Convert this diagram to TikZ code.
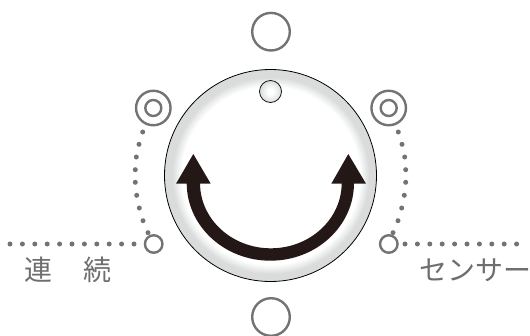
\documentclass[tikz,border=0pt]{standalone}
\usepackage{fontspec}
\newfontfamily\cjk{Noto Sans CJK JP}
\definecolor{dialgrey}{RGB}{218,220,220}
\definecolor{marksgrey}{RGB}{115,115,115}
\definecolor{txtgrey}{RGB}{110,110,110}
\definecolor{arrowblack}{RGB}{35,24,21}
\pgfdeclareradialshading{dialshade}{\pgfpoint{0bp}{0bp}}{
  color(0bp)=(white); color(21bp)=(white); color(23.2bp)=(dialgrey); color(25bp)=(dialgrey); color(50bp)=(dialgrey)}
\pgfdeclareradialshading{knobshade}{\pgfpoint{0bp}{0bp}}{
  color(0bp)=(white); color(6bp)=(white); color(25bp)=(dialgrey); color(50bp)=(dialgrey)}
\tikzset{
  ringmark/.style={circle,draw=marksgrey,line width=#1,inner sep=0pt,outer sep=0pt},
  dotmark/.style={circle,fill=marksgrey,inner sep=0pt,minimum size=5pt},
  labeltext/.style={text=txtgrey,font=\cjk\fontsize{28}{28}\selectfont,inner sep=0pt,anchor=mid},
  arrowpart/.style={fill=arrowblack,draw=none}
}
\begin{document}
\begin{tikzpicture}[x=1pt,y=-1pt]
\useasboundingbox (0,0) rectangle (530,335);
% outer marks
\node[ringmark=2.4pt,minimum size=37.6pt] (top) at (271,31.7) {};
\node[ringmark=2.4pt,minimum size=37.6pt] (bottom) at (271,317) {};
\node[ringmark=2.4pt,minimum size=34.5pt] (lo) at (153.3,108) {};
\node[ringmark=2.4pt,minimum size=16pt] (li) at (153.3,108) {};
\node[ringmark=2.4pt,minimum size=34.5pt] (ro) at (388.7,108) {};
\node[ringmark=2.4pt,minimum size=16pt] (ri) at (388.7,108) {};
\node[ringmark=2.4pt,minimum size=17.5pt] (ls) at (153.7,244) {};
\node[ringmark=2.4pt,minimum size=17.5pt] (rs) at (388.8,244) {};
% dial
\node[circle,draw=black,line width=0.8pt,minimum size=212pt,inner sep=0pt,shade,shading=dialshade] (dial) at (270.5,175.5) {};
\node[circle,draw=black,line width=0.7pt,minimum size=22pt,inner sep=0pt,shade,shading=knobshade] (knob) at (270.5,91.5) {};
% dots
\foreach \x/\y in {142.7/132,139/144.3,136.3/157,135.3/169.7,135.3/182.3,136.7/195.3,139.3/208,143/220.7,148/232.7}{
  \node[dotmark] at (\x,\y) {};
}
\foreach \x/\y in {398.3/132,402/144.3,404.7/157,405.7/169.7,405.7/182.3,404.3/195.3,401.7/208,398/220.7,393/232.7}{
  \node[dotmark] at (\x,\y) {};
}
\foreach \i in {0,...,10}{
  \node[dotmark] at ({10+12.4*\i},244) {};
}
\foreach \i in {0,...,9}{
  \node[dotmark] at ({405+12.4*\i},244) {};
}
% arrow
\fill[arrowpart] (186.7,183) arc[start angle=180,end angle=0,x radius=83.65,y radius=77.7] --
  (341.7,183) arc[start angle=0,end angle=180,x radius=70.85,y radius=65.3] -- cycle;
\coordinate (lt) at (193.3,154);
\coordinate (rt) at (348.3,154);
\fill[arrowpart] (lt) -- (210.7,183.7) -- (176,183.7) -- cycle;
\fill[arrowpart] (rt) -- (366,183.7) -- (331.3,183.7) -- cycle;
% labels
\node[labeltext] (ren) at (38.5,278) {連};
\node[labeltext] (zoku) at (97,278) {続};
\node[labeltext] (sensor) at (475,278) {センサー};
\end{tikzpicture}
\end{document}
